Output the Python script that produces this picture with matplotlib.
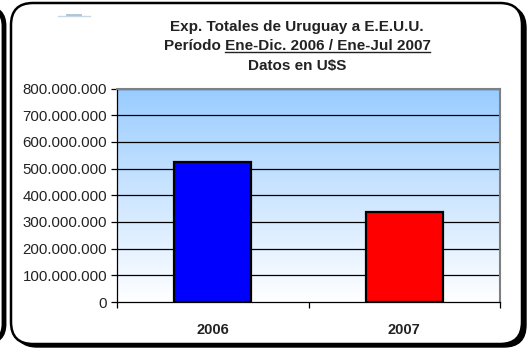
import matplotlib.pyplot as plt
from matplotlib.patches import FancyBboxPatch
from matplotlib.ticker import FuncFormatter
import numpy as np

plt.rcParams['font.family'] = ['Liberation Sans', 'DejaVu Sans']

categories = ['2006', '2007']
values = [523000000, 339000000]
bar_colors = ['#0000FF', '#FF0000']
yticks = [0, 100000000, 200000000, 300000000, 400000000,
          500000000, 600000000, 700000000, 800000000]

W, H = 532, 350
fig = plt.figure(figsize=(W / 100, H / 100), dpi=100)
fig.patch.set_facecolor('white')

# background layer for frames (pixel coords)
bg = fig.add_axes([0, 0, 1, 1])
bg.set_xlim(0, W)
bg.set_ylim(H, 0)
bg.axis('off')

# neighbouring frame on the left edge
bg.add_patch(FancyBboxPatch((-120, 8), 124, 334, boxstyle='round,pad=0,rounding_size=18',
                            fc='white', ec='black', lw=3.5))
# shadow + main rounded frame
bg.add_patch(FancyBboxPatch((15, 6), 511, 341, boxstyle='round,pad=0,rounding_size=22',
                            fc='black', ec='black', lw=1))
bg.add_patch(FancyBboxPatch((11, 3), 511, 341, boxstyle='round,pad=0,rounding_size=22',
                            fc='white', ec='black', lw=1.8))
# small logo mark
bg.plot([58, 90], [16, 16], color='#c9d6e3', lw=1.0)
bg.plot([67, 81], [14.5, 14.5], color='#a9bfd8', lw=1.3)

# titles
cx = 297
fs = 11
bg.text(cx, 27, 'Exp. Totales de Uruguay a E.E.U.U.', ha='center', va='center',
        fontsize=fs, fontweight='bold', color='#222222')
t2 = bg.text(cx, 46, 'Período Ene-Dic. 2006 / Ene-Jul 2007', ha='center', va='center',
             fontsize=fs, fontweight='bold', color='#222222')
bg.text(cx, 66, 'Datos en U$S', ha='center', va='center',
        fontsize=fs, fontweight='bold', color='#222222')

# underline part of second title
fig.canvas.draw()
r = fig.canvas.get_renderer()
full = t2.get_window_extent(r)
tmp = bg.text(0, 0, 'Ene-Dic. 2006 / Ene-Jul 2007', fontsize=fs, fontweight='bold')
uw = tmp.get_window_extent(r).width
tmp.remove()
x1 = full.x1
x0 = x1 - uw
yline = full.y0 + 1.0
fig.add_artist(plt.Line2D([x0 / W, x1 / W], [yline / H, yline / H],
                          transform=fig.transFigure, color='#222222', lw=1))

# plot area
left, right, top, bottom = 117, 500, 88.5, 302
ax = fig.add_axes([left / W, 1 - bottom / H, (right - left) / W, (bottom - top) / H])
ax.set_facecolor('none')
ax.set_xlim(-0.5, 1.5)
ax.set_ylim(0, 800000000)

grad = np.linspace(1, 0, 256).reshape(-1, 1)
top_c = np.array([0.60, 0.80, 1.0])
bot_c = np.array([1.0, 1.0, 1.0])
img = bot_c + (top_c - bot_c) * grad[..., None]
ax.imshow(img, extent=[-0.5, 1.5, 0, 800000000], aspect='auto', zorder=0)

for y in yticks[1:]:
    ax.axhline(y, color='black', lw=0.9, zorder=1)

ax.bar(range(len(categories)), values, width=0.404, color=bar_colors,
       edgecolor='black', linewidth=1.6, zorder=3)

ax.set_yticks(yticks)
ax.yaxis.set_major_formatter(FuncFormatter(lambda v, p: f'{int(v):,}'.replace(',', '.')))
ax.set_xticks(range(len(categories)))
ax.set_xticklabels(categories, fontweight='bold')
ax.set_xticks([-0.5, 0.5, 1.5], minor=True)
ax.tick_params(axis='x', which='major', length=0, pad=15, labelsize=10.5, colors='#222222')
ax.tick_params(axis='x', which='minor', length=4, direction='out', width=0.9)
ax.tick_params(axis='y', length=4, direction='out', width=0.9, labelsize=10.8,
               colors='black', labelcolor='#222222', pad=3)

for s in ['top', 'right']:
    ax.spines[s].set_color('#808080')
    ax.spines[s].set_linewidth(1.5)
ax.spines['left'].set_linewidth(0.9)
ax.spines['bottom'].set_linewidth(0.9)

fig.savefig('out.png', dpi=100)
